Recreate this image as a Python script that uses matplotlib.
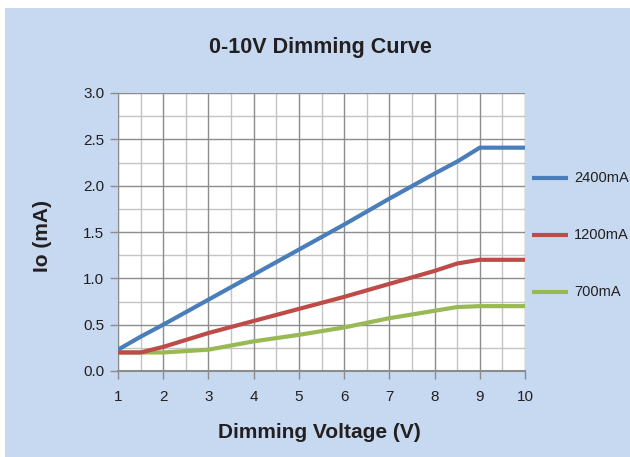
import matplotlib
matplotlib.use('Agg')
import matplotlib.pyplot as plt
from matplotlib.patches import Rectangle
from matplotlib.lines import Line2D
import numpy as np

plt.rcParams['font.family'] = ['Liberation Sans', 'DejaVu Sans']

# data
volts = [1, 1.5, 2, 3, 4, 5, 6, 7, 8, 8.5, 9, 10]
io_2400 = [0.23, 0.37, 0.50, 0.77, 1.04, 1.31, 1.58, 1.86, 2.13, 2.26, 2.41, 2.41]
io_1200 = [0.20, 0.20, 0.26, 0.41, 0.54, 0.67, 0.80, 0.94, 1.08, 1.16, 1.20, 1.20]
io_700 = [0.20, 0.20, 0.20, 0.23, 0.32, 0.39, 0.47, 0.57, 0.65, 0.69, 0.70, 0.70]
series_names = ['2400mA', '1200mA', '700mA']
x_ticks = list(range(1, 11))
y_ticks = [0.0, 0.5, 1.0, 1.5, 2.0, 2.5, 3.0]

colors = ['#4a7ebb', '#be4b48', '#98b954']
bg = '#c6d9f0'
W, H = 630, 457

fig = plt.figure(figsize=(W / 100, H / 100), dpi=100)
fig.patch.set_facecolor('white')
# light blue panel behind the chart
fig.add_artist(Rectangle((5 / W, 0), 1, (H - 8) / H, transform=fig.transFigure,
                         facecolor=bg, edgecolor='none', zorder=0))

ax = fig.add_axes([118 / W, (H - 371) / H, (525 - 118) / W, (371 - 93) / H])
ax.set_facecolor('white')
ax.set_xlim(1, 10)
ax.set_ylim(0, 3.0)

# grid: light minor lines, darker major lines
for xv in np.arange(1.5, 10, 1.0):
    ax.axvline(xv, color='#c4c4c4', lw=1, zorder=1)
for yv in np.arange(0.25, 3.0, 0.5):
    ax.axhline(yv, color='#c4c4c4', lw=1, zorder=1)
for xv in x_ticks:
    ax.axvline(xv, color='#8c8c8c', lw=1, zorder=1.5)
for yv in y_ticks:
    ax.axhline(yv, color='#8c8c8c', lw=1, zorder=1.5)

ys = [io_2400, io_1200, io_700]
for y, c in zip(ys[::-1], colors[::-1]):
    ax.plot(volts, y, color=c, lw=3, solid_capstyle='butt', zorder=3)

for s in ax.spines.values():
    s.set_visible(False)
ax.spines['bottom'].set_visible(True)
ax.spines['bottom'].set_color('#8c8c8c')
ax.spines['bottom'].set_linewidth(1.5)
ax.spines['left'].set_visible(True)
ax.spines['left'].set_color('#8c8c8c')

ax.set_xticks(x_ticks)
ax.set_xticklabels([str(v) for v in x_ticks])
ax.set_yticks(y_ticks)
ax.set_yticklabels(['%.1f' % v for v in y_ticks])
ax.tick_params(axis='both', colors='#8c8c8c', labelcolor='#231f20', labelsize=11,
               length=6, width=1)
ax.tick_params(axis='x', pad=8)
ax.tick_params(axis='y', pad=4)

fig.text(320 / W, 1 - 47 / H, '0-10V Dimming Curve', ha='center', va='center',
         fontsize=15.5, fontweight='bold', color='#231f20')
fig.text(319 / W, 1 - 432 / H, 'Dimming Voltage (V)', ha='center', va='center',
         fontsize=15, fontweight='bold', color='#231f20')
fig.text(43 / W, 1 - 236 / H, 'Io (mA)', ha='center', va='center', rotation=90,
         fontsize=15, fontweight='bold', color='#231f20')

# legend outside the plot on the right
leg_y = [178, 235, 292]
for name, c, yp in zip(series_names, colors, leg_y):
    fig.add_artist(Line2D([532 / W, 568 / W], [1 - yp / H, 1 - yp / H],
                          transform=fig.transFigure, color=c, lw=3,
                          solid_capstyle='butt'))
    fig.text(574 / W, 1 - yp / H, name, ha='left', va='center', fontsize=10.5,
             color='#231f20')

fig.savefig('out.png', dpi=100, facecolor=fig.get_facecolor())
